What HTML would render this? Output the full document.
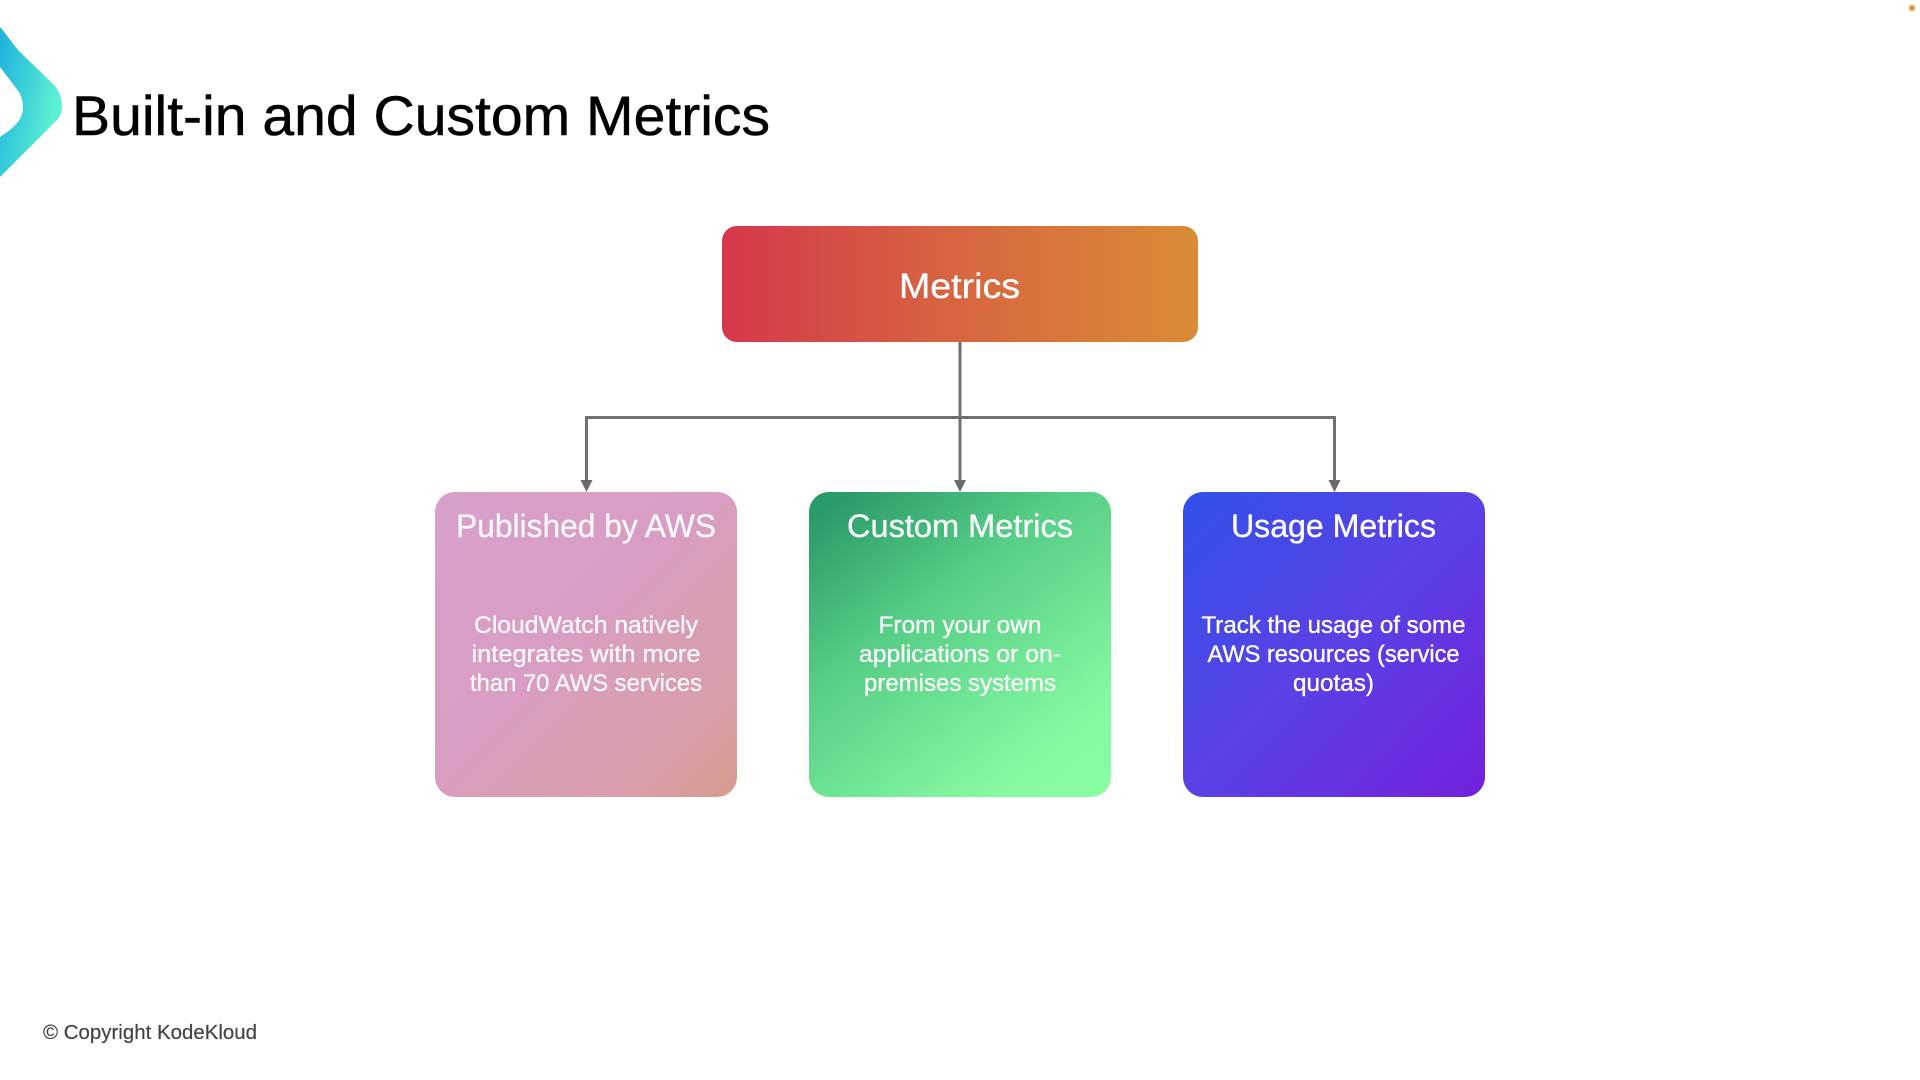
<!DOCTYPE html>
<html lang="en">
<head>
<meta charset="utf-8">
<title>Built-in and Custom Metrics</title>
<style>
html,body{margin:0;padding:0;background:#fff;width:1920px;height:1080px;overflow:hidden}
svg{display:block}
text{font-family:"Liberation Sans",sans-serif}
.h{font-size:32px;fill:#fff;stroke:#fff;stroke-width:.35px;text-anchor:middle}
.b{font-size:24px;fill:#fff;stroke:#fff;stroke-width:.35px;text-anchor:middle}
</style>
</head>
<body>
<svg width="1920" height="1080" viewBox="0 0 1920 1080" xmlns="http://www.w3.org/2000/svg">
<defs>
<linearGradient id="chev" x1="0" y1="0.15" x2="1" y2="0.6">
<stop offset="0" stop-color="#22b4de"/><stop offset="0.45" stop-color="#3dd2d8"/><stop offset="0.85" stop-color="#5aeed4"/><stop offset="1" stop-color="#5ff3cf"/>
</linearGradient>
<linearGradient id="red" x1="0" y1="0" x2="1" y2="0">
<stop offset="0" stop-color="#d5384a"/><stop offset="0.5" stop-color="#d76640"/><stop offset="1" stop-color="#d98c36"/>
</linearGradient>
<linearGradient id="pink" x1="0" y1="0" x2="1" y2="1">
<stop offset="0" stop-color="#d7a0cc"/><stop offset="0.45" stop-color="#d89dc2"/><stop offset="0.82" stop-color="#d89fa8"/><stop offset="1" stop-color="#d89a8c"/>
</linearGradient>
<linearGradient id="green" x1="0.12" y1="0" x2="0.88" y2="1">
<stop offset="0" stop-color="#2a9a68"/><stop offset="0.35" stop-color="#56cc86"/><stop offset="0.85" stop-color="#85f9a0"/><stop offset="1" stop-color="#88fda2"/>
</linearGradient>
<linearGradient id="blue" x1="0" y1="0" x2="1" y2="1">
<stop offset="0" stop-color="#3251e9"/><stop offset="0.5" stop-color="#5a41e6"/><stop offset="1" stop-color="#7420dc"/>
</linearGradient>
</defs>

<path d="M0 27 C8 36 14 46 20 52 L54 85 Q62 94 62 107 Q62 114 57 120 L0 177 L0 137 C10 130 14 127 17 123 Q23 116 23 107 Q23 100 19 92 L0 67 Z" fill="url(#chev)"/>
<text x="72" y="135" font-size="56" fill="#000" stroke="#000" stroke-width=".5" textLength="698" lengthAdjust="spacingAndGlyphs">Built-in and Custom Metrics</text>

<rect x="722" y="226" width="476" height="116" rx="15" fill="url(#red)"/>
<text class="h" x="959.500" y="298" style="font-size:35px" textLength="121" lengthAdjust="spacingAndGlyphs">Metrics</text>

<g fill="none" stroke="#707070" stroke-width="3">
<path d="M960 342V481"/>
<path d="M586.500 481V417.500H1334.500V481"/>
</g>
<g fill="#6a6a6a">
<path d="M580.500 480H592.500L586.500 492Z"/>
<path d="M954 480H966L960 492Z"/>
<path d="M1328.500 480H1340.500L1334.500 492Z"/>
</g>

<rect x="435" y="492" width="302" height="305" rx="20" fill="url(#pink)"/>
<rect x="809" y="492" width="302" height="305" rx="20" fill="url(#green)"/>
<rect x="1183" y="492" width="302" height="305" rx="20" fill="url(#blue)"/>

<g opacity="0.92">
<text class="h" x="586" y="537" textLength="260" lengthAdjust="spacingAndGlyphs">Published by AWS</text>
<text class="b" x="586" y="633" textLength="224" lengthAdjust="spacingAndGlyphs">CloudWatch natively</text>
<text class="b" x="586" y="662" textLength="229" lengthAdjust="spacingAndGlyphs">integrates with more</text>
<text class="b" x="586" y="691" textLength="232" lengthAdjust="spacingAndGlyphs">than 70 AWS services</text>
</g>

<g opacity="0.96">
<text class="h" x="960" y="537" textLength="226" lengthAdjust="spacingAndGlyphs">Custom Metrics</text>
<text class="b" x="960" y="633" textLength="163" lengthAdjust="spacingAndGlyphs">From your own</text>
<text class="b" x="960" y="662" textLength="202" lengthAdjust="spacingAndGlyphs">applications or on-</text>
<text class="b" x="960" y="691" textLength="192" lengthAdjust="spacingAndGlyphs">premises systems</text>
</g>

<text class="h" x="1333.500" y="537" textLength="205" lengthAdjust="spacingAndGlyphs">Usage Metrics</text>
<text class="b" x="1333.500" y="633" textLength="264" lengthAdjust="spacingAndGlyphs">Track the usage of some</text>
<text class="b" x="1333.500" y="662" textLength="252" lengthAdjust="spacingAndGlyphs">AWS resources (service</text>
<text class="b" x="1333.500" y="691" textLength="81" lengthAdjust="spacingAndGlyphs">quotas)</text>

<text x="43" y="1039" font-size="20" fill="#444" stroke="#444" stroke-width=".2" textLength="214" lengthAdjust="spacingAndGlyphs">© Copyright KodeKloud</text>
<circle cx="1912" cy="8" r="3" fill="#e8913a"/>
</svg>
</body>
</html>
